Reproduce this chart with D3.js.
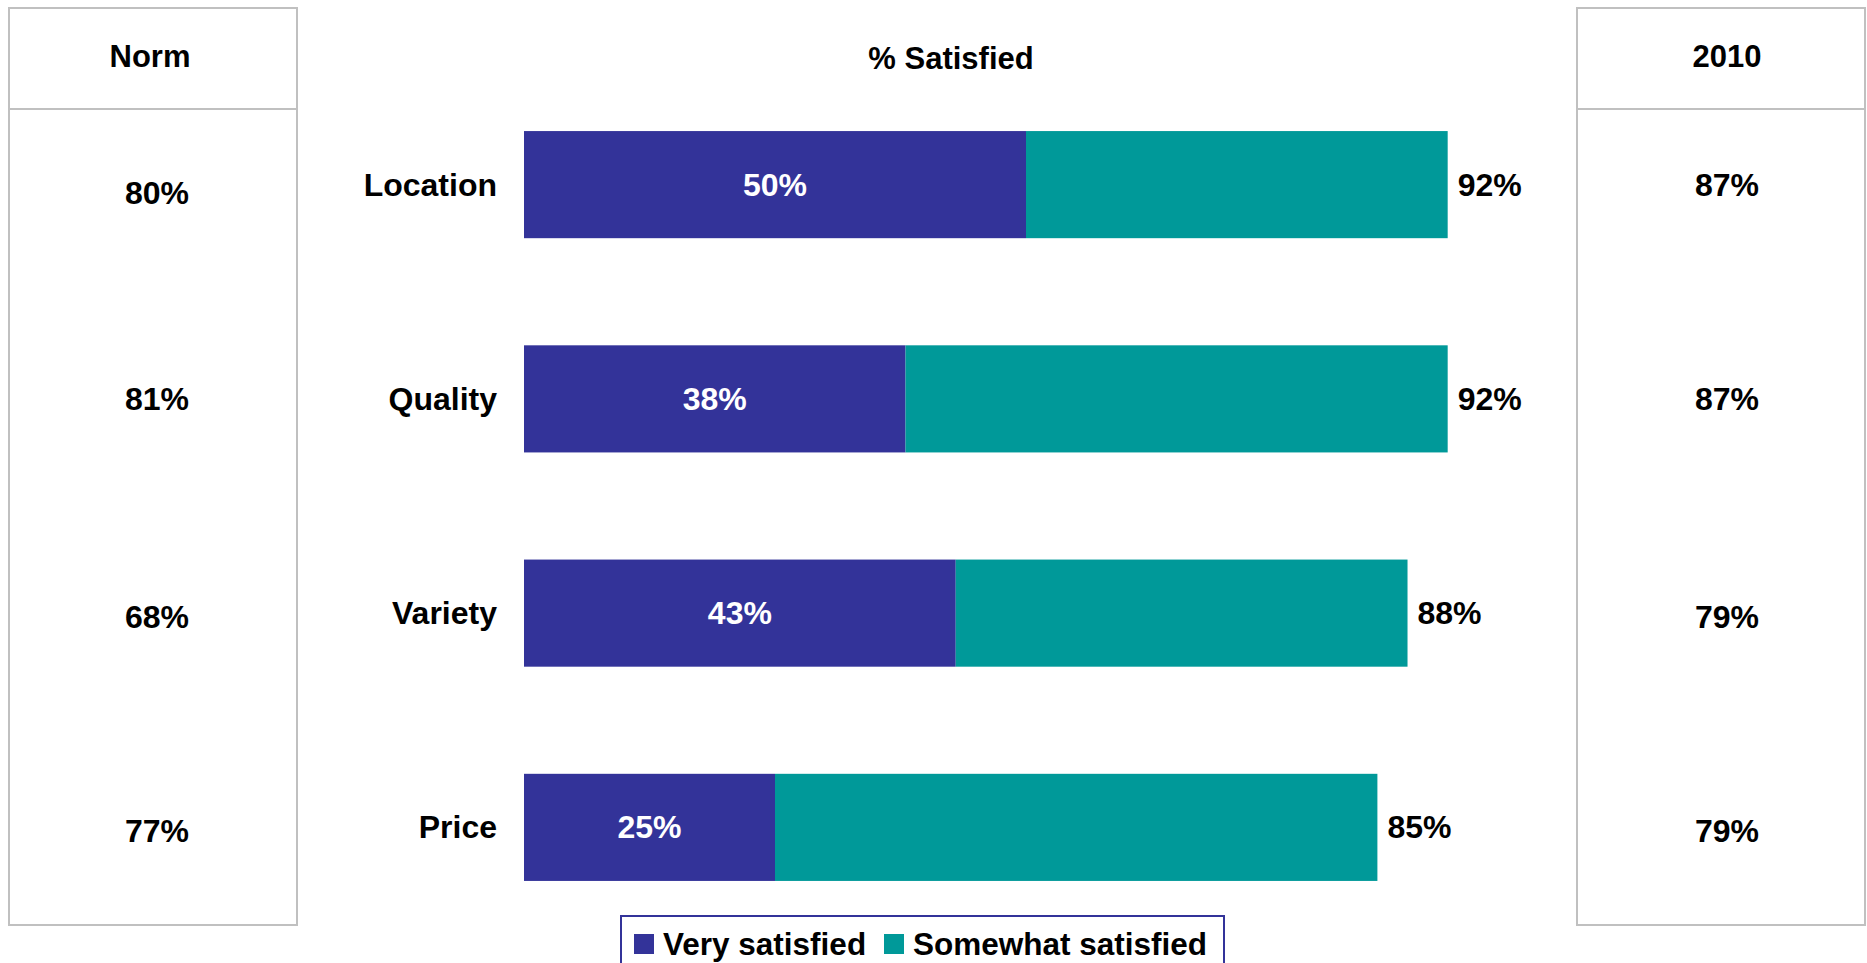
<!DOCTYPE html>
<html>
<head>
<meta charset="utf-8">
<script src="https://cdn.jsdelivr.net/npm/d3@7"></script>
<style>
  html, body { margin: 0; padding: 0; background: #ffffff; }
  svg { display: block; font-family: "Liberation Sans", Arial, Helvetica, sans-serif; font-weight: bold; }
</style>
</head>
<body>
<svg id="chart" width="1867" height="963"></svg>
<script>
// Satisfaction attributes, top to bottom
const categories = ["Location", "Quality", "Variety", "Price"];
// Share of respondents (%)
const verySatisfied = [50, 38, 43, 25];
const totalSatisfied = [92, 92, 88, 85];
const somewhatSatisfied = totalSatisfied.map((t, i) => t - verySatisfied[i]);
// Comparison columns
const normValues = [80, 81, 68, 77];
const year2010Values = [87, 87, 79, 79];
const seriesNames = ["Very satisfied", "Somewhat satisfied"];
const seriesColors = ["#333399", "#009999"];

const svg = d3.select("#chart");

const x = d3.scaleLinear().domain([0, 100]).range([524, 1528]);
const y = d3.scaleBand().domain(categories).range([77.5, 934.5])
  .paddingInner(0.5).paddingOuter(0.25);

const pct = v => v + "%";
const labelSize = 32;

// Side panels (Norm / 2010)
const panels = [
  { title: "Norm", x0: 9, x1: 297, values: normValues, dy: [8, 0, 4, 4], hx: -3, vx: 4 },
  { title: "2010", x0: 1577, x1: 1865, values: year2010Values, dy: [0, 0, 4, 4], hx: 6, vx: 6 }
];
const panelTop = 8, panelDivider = 109, panelBottom = 925;

panels.forEach(p => {
  const g = svg.append("g");
  g.append("rect")
    .attr("x", p.x0).attr("y", panelTop)
    .attr("width", p.x1 - p.x0).attr("height", panelBottom - panelTop)
    .attr("fill", "#ffffff").attr("stroke", "#c0c0c0").attr("stroke-width", 2);
  g.append("line")
    .attr("x1", p.x0).attr("x2", p.x1)
    .attr("y1", panelDivider).attr("y2", panelDivider)
    .attr("stroke", "#c0c0c0").attr("stroke-width", 2);
  const cx = (p.x0 + p.x1) / 2;
  g.append("text")
    .attr("x", cx + p.hx).attr("y", 56)
    .attr("text-anchor", "middle").attr("dominant-baseline", "central")
    .attr("font-size", 31).attr("fill", "#000")
    .text(p.title);
  g.selectAll("text.val").data(p.values).join("text")
    .attr("class", "val")
    .attr("x", cx + p.vx)
    .attr("y", (d, i) => y(categories[i]) + y.bandwidth() / 2 + p.dy[i])
    .attr("text-anchor", "middle").attr("dominant-baseline", "central")
    .attr("font-size", labelSize).attr("fill", "#000")
    .text(pct);
});

// Chart title
svg.append("text")
  .attr("x", 951).attr("y", 58)
  .attr("text-anchor", "middle").attr("dominant-baseline", "central")
  .attr("font-size", 31).attr("fill", "#000")
  .text("% Satisfied");

// Stacked bars
const rows = categories.map((c, i) => ({
  cat: c, very: verySatisfied[i], somewhat: somewhatSatisfied[i], total: totalSatisfied[i]
}));
const stack = d3.stack().keys(["very", "somewhat"])(rows);

svg.append("g").selectAll("g").data(stack).join("g")
  .attr("fill", (d, i) => seriesColors[i])
  .selectAll("rect").data(d => d).join("rect")
    .attr("x", d => x(d[0]))
    .attr("y", d => y(d.data.cat))
    .attr("width", d => x(d[1]) - x(d[0]))
    .attr("height", y.bandwidth());

// Category labels
svg.append("g").selectAll("text").data(rows).join("text")
  .attr("x", 497)
  .attr("y", d => y(d.cat) + y.bandwidth() / 2)
  .attr("text-anchor", "end").attr("dominant-baseline", "central")
  .attr("font-size", labelSize).attr("fill", "#000")
  .text(d => d.cat);

// Very satisfied labels inside the bars
svg.append("g").selectAll("text").data(rows).join("text")
  .attr("x", d => (x(0) + x(d.very)) / 2)
  .attr("y", d => y(d.cat) + y.bandwidth() / 2)
  .attr("text-anchor", "middle").attr("dominant-baseline", "central")
  .attr("font-size", labelSize).attr("fill", "#ffffff")
  .text(d => pct(d.very));

// Total satisfied labels at bar ends
svg.append("g").selectAll("text").data(rows).join("text")
  .attr("x", d => x(d.total) + 10)
  .attr("y", d => y(d.cat) + y.bandwidth() / 2)
  .attr("text-anchor", "start").attr("dominant-baseline", "central")
  .attr("font-size", labelSize).attr("fill", "#000")
  .text(d => pct(d.total));

// Legend
const legend = svg.append("g");
legend.append("rect")
  .attr("x", 621).attr("y", 916).attr("width", 603).attr("height", 60)
  .attr("fill", "#ffffff").attr("stroke", "#333399").attr("stroke-width", 2);
const legendItems = [{ x: 634 }, { x: 884 }];
seriesNames.forEach((name, i) => {
  legend.append("rect")
    .attr("x", legendItems[i].x).attr("y", 934)
    .attr("width", 20).attr("height", 20)
    .attr("fill", seriesColors[i]);
  legend.append("text")
    .attr("x", legendItems[i].x + 29).attr("y", 944)
    .attr("dominant-baseline", "central")
    .attr("font-size", 31.5).attr("fill", "#000")
    .text(name);
});
</script>
</body>
</html>
